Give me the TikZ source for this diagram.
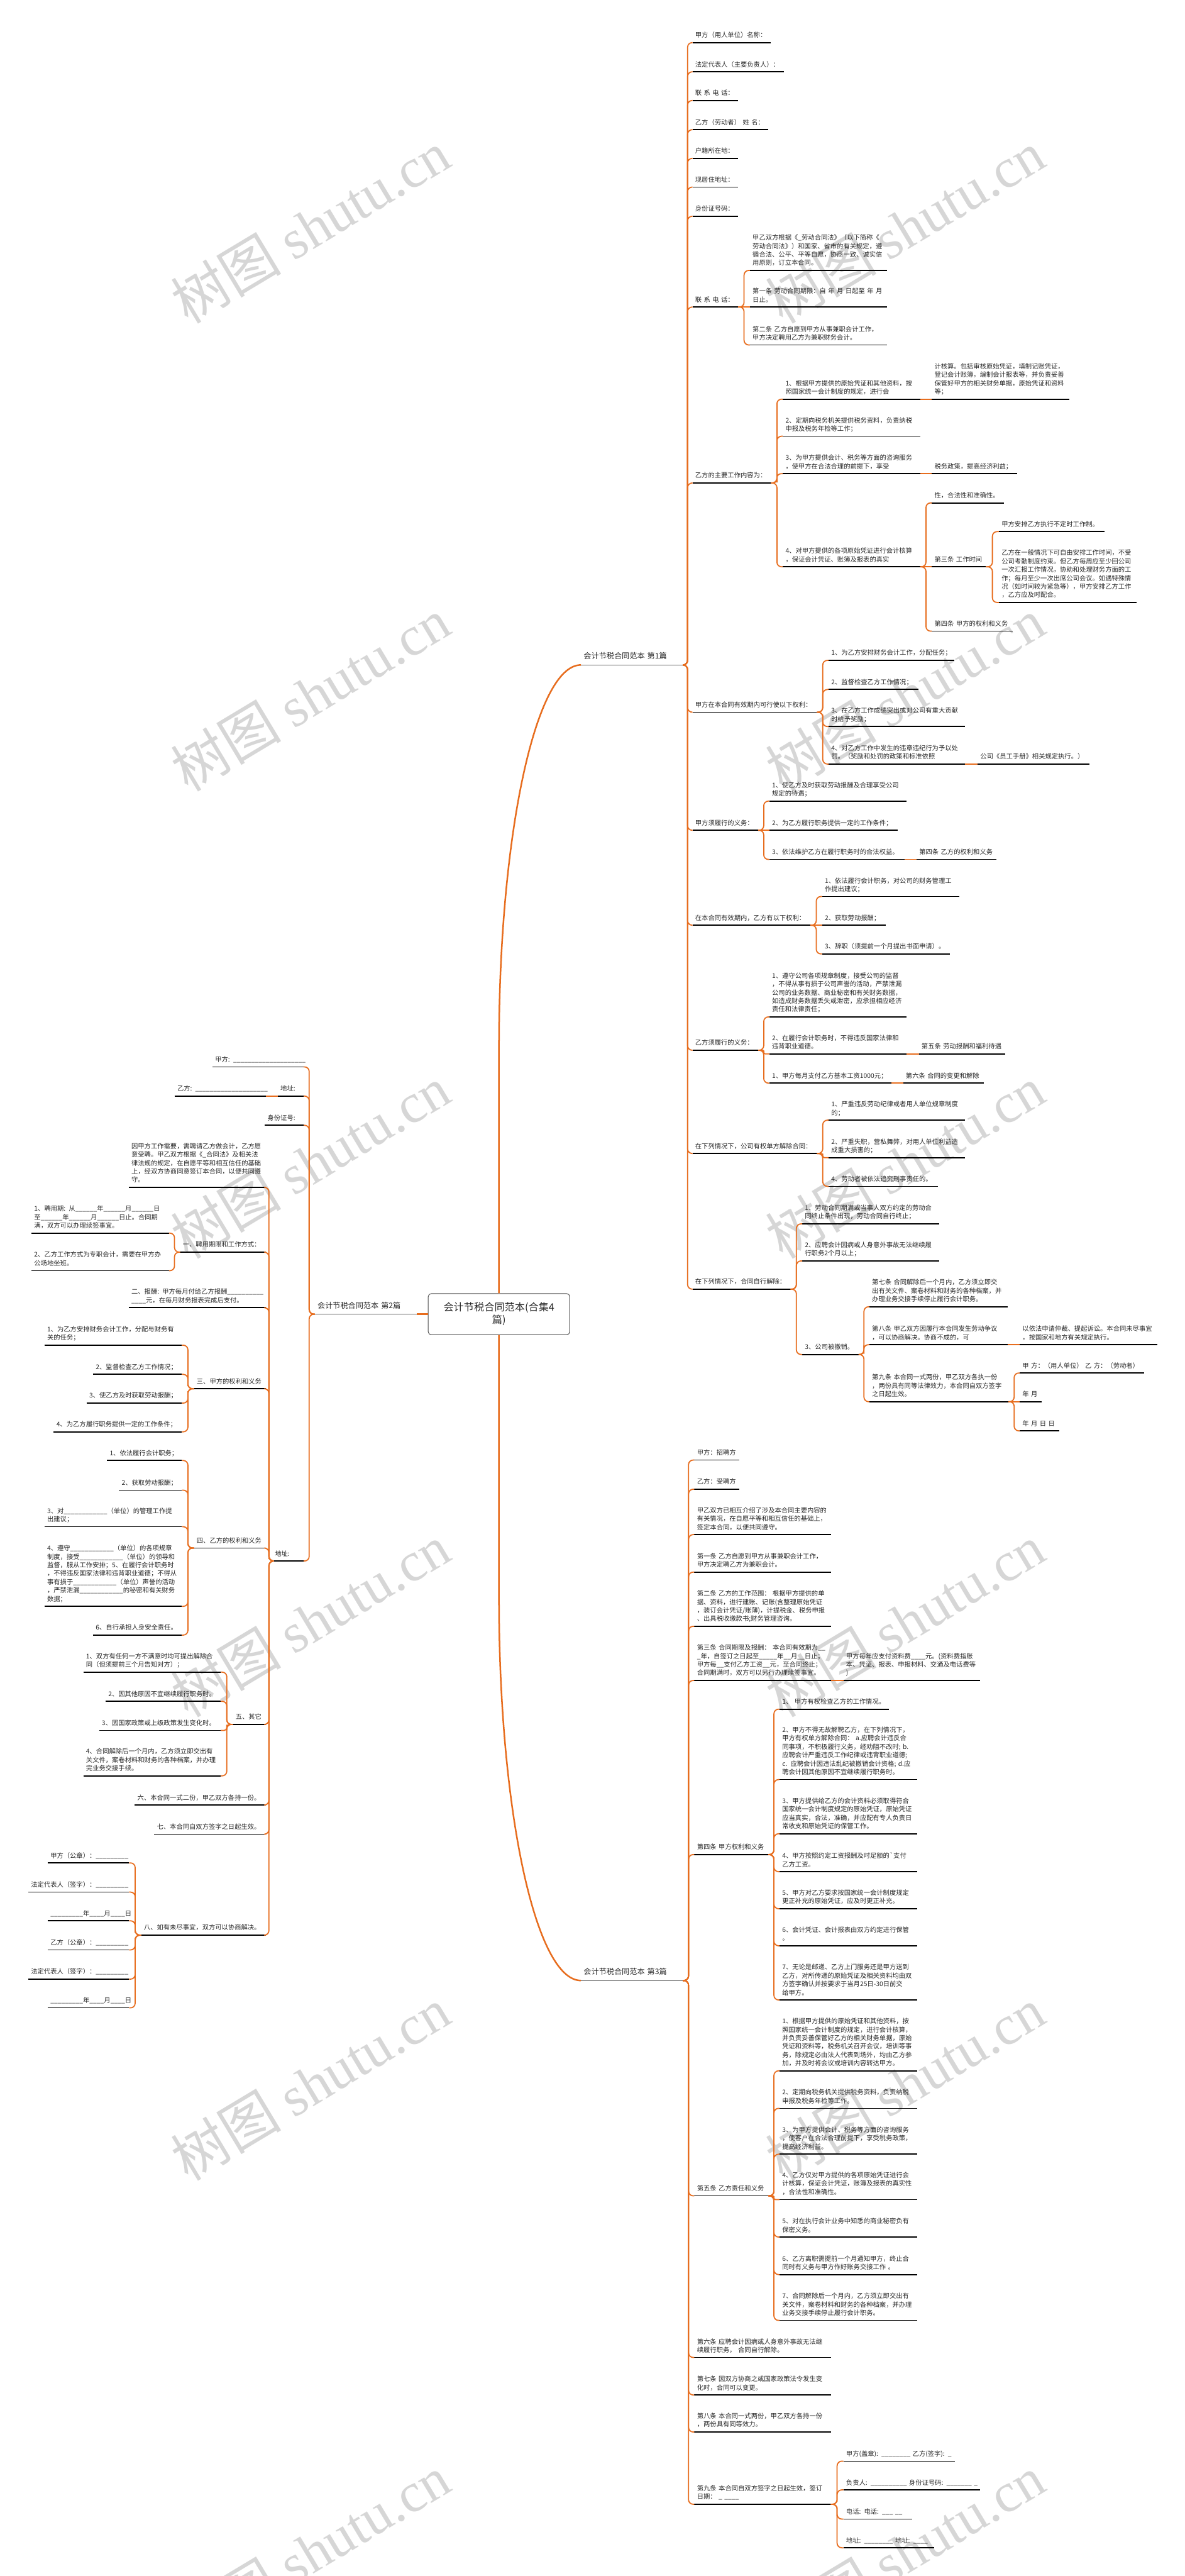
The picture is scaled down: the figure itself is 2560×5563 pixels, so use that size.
\documentclass[tikz,border=0pt]{standalone}
\usepackage{fontspec}
\setmainfont{Noto Sans CJK SC}
\newfontfamily\wmlatin{Liberation Serif}
\usetikzlibrary{calc}
\definecolor{brc}{RGB}{231,109,30}
\definecolor{txt}{RGB}{38,38,38}
\definecolor{wmc}{RGB}{214,214,214}
\newcommand\TL[1]{\begin{tabular}{@{}l@{}}#1\end{tabular}}
\newcommand\RN[5]{\pgfmathsetmacro\tw{#4-12}\node[nd,anchor=south west,text width=\tw pt] (#1) at (#2,#3) {\TL{#5}};\draw[ul] (#1.south west) -- (#1.south east);}
\newcommand\LN[5]{\pgfmathsetmacro\tw{#4-12}\node[nd,anchor=south east,text width=\tw pt] (#1) at (#2,#3) {\TL{#5}};\draw[ul] (#1.south west) -- (#1.south east);}
\newcommand\RL[5]{\pgfmathsetmacro\tw{#4-12}\node[lone,anchor=south west,text width=\tw pt] (#1) at (#2,#3) {\TL{#5}};\draw[ulone] (#1.south west) -- (#1.south east);}
\newcommand\LL[5]{\pgfmathsetmacro\tw{#4-12}\node[lone,anchor=south east,text width=\tw pt] (#1) at (#2,#3) {\TL{#5}};\draw[ulone] (#1.south west) -- (#1.south east);}
\newcommand\C[3][10]{\draw[conn,rounded corners=#1pt] (#2.south east) -| ($(#2.south east)!.5!(#3.south west)$) |- (#3.south west);}
\newcommand\CL[3][10]{\draw[conn,rounded corners=#1pt] (#2.south west) -| ($(#2.south west)!.5!(#3.south east)$) |- (#3.south east);}
\newcommand\CS[2]{\draw[conn] (#1.south east) -- (#2.south west);}
\newcommand\CSL[2]{\draw[conn] (#1.south west) -- (#2.south east);}
\begin{document}
\begin{tikzpicture}[x=1pt,y=-1pt,
  nd/.style={font=\fontsize{14}{18.2}\selectfont, text=txt, align=left, inner xsep=6pt, inner ysep=5.5pt, outer sep=0pt},
  lone/.style={font=\fontsize{16.5}{21}\selectfont, text=txt, align=left, inner xsep=6pt, inner ysep=6.4pt, outer sep=0pt},
  ul/.style={line width=2.4pt, black},
  ulone/.style={line width=1.8pt, black!65},
  conn/.style={draw=brc, line width=2.4pt},
  rc/.style={draw=brc, line width=3.4pt},
  wm/.style={rotate=31, text=wmc, font=\fontsize{120}{120}\selectfont, inner sep=0pt}]
\fill[white] (0,0) rectangle (2560,5563);
\useasboundingbox (0,0) rectangle (2560,5563);
% watermarks
\foreach \yy in {490,1500,2510,3500,4500,5510}{
  \node[wm] (wl\yy) at (670,\yy) {树图 {\wmlatin shutu.cn}};
  \node[wm] (wr\yy) at (1955,\yy) {树图 {\wmlatin shutu.cn}};
}
% root
\node[draw=black!70, line width=1.3pt, rounded corners=7pt, fill=white, minimum width=306pt, minimum height=89pt, align=center, font=\fontsize{22}{27}\selectfont, text=txt, inner sep=4pt] (root) at (1078,2838) {会计节税合同范本(合集4\\篇)};
% level 1
\RL{P1}{1255}{1436}{220}{会计节税合同范本 第1篇}
\LL{P2}{901}{2838}{221}{会计节税合同范本 第2篇}
\RL{P3}{1255}{4277}{220}{会计节税合同范本 第3篇}
\draw[rc] (root.north) -- (1078,2260) .. controls (1078,1805) and (1157,1436) .. (P1.south west);
\draw[rc] (root.south) -- (1078,3453) .. controls (1078,3908) and (1157,4277) .. (P3.south west);
\draw[rc] (P2.south east) -- (root.west);
% ---------- Part 1 ----------
\RN{a1}{1496}{92}{169}{甲方（用人单位）名称：}
\RN{a2}{1496}{155}{197}{法定代表人（主要负责人）：}
\RN{a3}{1496}{217}{99}{联 系 电 话：}
\RN{a4}{1496}{280}{164}{乙方（劳动者） 姓 名：}
\RN{a5}{1496}{342}{99}{户籍所在地：}
\RN{a6}{1496}{404}{99}{现居住地址：}
\RN{a7}{1496}{467}{99}{身份证号码：}
\RN{a8}{1496}{663}{99}{联 系 电 话：}
\RN{a8a}{1620}{584}{297}{甲乙双方根据《\_劳动合同法》（以下简称《\\劳动合同法》）和国家、省市的有关规定，遵\\循合法、公平、平等自愿，协商一致、诚实信\\用原则，订立本合同。}
\RN{a8b}{1620}{663}{297}{第一条 劳动合同期限：自 年 月 日起至 年 月\\日止。}
\RN{a8c}{1620}{745}{297}{第二条 乙方自愿到甲方从事兼职会计工作，\\甲方决定聘用乙方为兼职财务会计。}
\RN{a9}{1496}{1043}{170}{乙方的主要工作内容为：}
\RN{b1}{1691}{862}{297}{1、根据甲方提供的原始凭证和其他资料，按\\照国家统一会计制度的规定，进行会}
\RN{b1c}{2013}{862}{297}{计核算。包括审核原始凭证，填制记账凭证，\\登记会计账簿，编制会计报表等，并负责妥善\\保管好甲方的相关财务单据，原始凭证和资料\\等；}
\RN{b2}{1691}{942}{297}{2、定期向税务机关提供税务资料，负责纳税\\申报及税务年检等工作；}
\RN{b3}{1691}{1023}{297}{3、为甲方提供会计、税务等方面的咨询服务\\，使甲方在合法合理的前提下，享受}
\RN{b3c}{2013}{1023}{184}{税务政策，提高经济利益；}
\RN{b4}{1691}{1224}{297}{4、对甲方提供的各项原始凭证进行会计核算\\，保证会计凭证、账簿及报表的真实}
\RN{b4a}{2013}{1086}{156}{性，合法性和准确性。}
\RN{b4b}{2013}{1224}{117}{第三条 工作时间}
\RN{c1}{2158}{1148}{228}{甲方安排乙方执行不定时工作制。}
\RN{c2}{2158}{1301}{298}{乙方在一般情况下可自由安排工作时间，不受\\公司考勤制度约束。但乙方每周应至少回公司\\一次汇报工作情况，协助和处理财务方面的工\\作；每月至少一次出席公司会议。如遇特殊情\\况（如时间较为紧急等），甲方安排乙方工作\\，乙方应及时配合。}
\RN{b4c}{2013}{1363}{175}{第四条 甲方的权利和义务}
\RN{a10}{1496}{1538}{269}{甲方在本合同有效期内可行使以下权利：}
\RN{d1}{1790}{1426}{272}{1、为乙方安排财务会计工作，分配任务；}
\RN{d2}{1790}{1489}{194}{2、监督检查乙方工作情况；}
\RN{d3}{1790}{1569}{295}{3、在乙方工作成绩突出或对公司有重大贡献\\时给予奖励；}
\RN{d4}{1790}{1650}{295}{4、对乙方工作中发生的违章违纪行为予以处\\罚。（奖励和处罚的政策和标准依照}
\RN{d4c}{2112}{1650}{241}{公司《员工手册》相关规定执行。）}
\RN{a11}{1496}{1793}{142}{甲方须履行的义务：}
\RN{e1}{1662}{1730}{296}{1、使乙方及时获取劳动报酬及合理享受公司\\规定的待遇；}
\RN{e2}{1662}{1793}{277}{2、为乙方履行职务提供一定的工作条件；}
\RN{e3}{1662}{1856}{292}{3、依法维护乙方在履行职务时的合法权益。}
\RN{e3c}{1980}{1856}{173}{第四条 乙方的权利和义务}
\RN{a12}{1496}{1998}{255}{在本合同有效期内，乙方有以下权利：}
\RN{f1}{1776}{1936}{296}{1、依法履行会计职务，对公司的财务管理工\\作提出建议；}
\RN{f2}{1776}{1998}{137}{2、获取劳动报酬；}
\RN{f3}{1776}{2060}{276}{3、辞职（须提前一个月提出书面申请）。}
\RN{a13}{1496}{2268}{142}{乙方须履行的义务：}
\RN{g1}{1662}{2196}{296}{1、遵守公司各项规章制度，接受公司的监督\\，不得从事有损于公司声誉的活动，严禁泄漏\\公司的业务数据、商业秘密和有关财务数据，\\如造成财务数据丢失或泄密，应承担相应经济\\责任和法律责任；}
\RN{g2}{1662}{2276}{296}{2、在履行会计职务时，不得违反国家法律和\\违背职业道德。}
\RN{g2c}{1985}{2276}{187}{第五条 劳动报酬和福利待遇}
\RN{g3}{1662}{2339}{264}{1、甲方每月支付乙方基本工资1000元；}
\RN{g3c}{1951}{2339}{175}{第六条 合同的变更和解除}
\RN{a14}{1496}{2491}{269}{在下列情况下，公司有权单方解除合同：}
\RN{h1}{1790}{2419}{295}{1、严重违反劳动纪律或者用人单位规章制度\\的；}
\RN{h2}{1790}{2500}{295}{2、严重失职，营私舞弊，对用人单位利益造\\成重大损害的；}
\RN{h3}{1790}{2562}{236}{4、劳动者被依法追究刑事责任的。}
\RN{a15}{1496}{2784}{212}{在下列情况下，合同自行解除：}
\RN{i1}{1733}{2643}{296}{1、劳动合同期满或当事人双方约定的劳动合\\同终止条件出现，劳动合同自行终止；}
\RN{i2}{1733}{2723}{296}{2、应聘会计因病或人身意外事故无法继续履\\行职务2个月以上；}
\RN{i3}{1733}{2925}{122}{3、公司被撤销。}
\RN{j1}{1878}{2822}{299}{第七条 合同解除后一个月内，乙方须立即交\\出有关文件、案卷材料和财务的各种档案，并\\办理业务交接手续停止履行会计职务。}
\RN{j2}{1878}{2904}{299}{第八条 甲乙双方因履行本合同发生劳动争议\\，可以协商解决。协商不成的，可}
\RN{j2c}{2203}{2904}{297}{以依法申请仲裁、提起诉讼。本合同未尽事宜\\，按国家和地方有关规定执行。}
\RN{j3}{1878}{3027}{301}{第九条 本合同一式两份，甲乙双方各执一份\\，两份具有同等法律效力，本合同自双方签字\\之日起生效。}
\RN{k1}{2203}{2965}{269}{甲 方：（用人单位） 乙 方：（劳动者）}
\RN{k2}{2203}{3027}{47}{年 月}
\RN{k3}{2203}{3090}{85}{年 月 日 日}
\foreach \n in {a1,a2,a3,a4,a5,a6,a7,a8,a9,a10,a11,a12,a13,a14,a15}{\C{P1}{\n}}
\C{a8}{a8a}\CS{a8}{a8b}\C{a8}{a8c}
\C{a9}{b1}\C{a9}{b2}\C[9]{a9}{b3}\C{a9}{b4}
\CS{b1}{b1c}\CS{b3}{b3c}
\C{b4}{b4a}\CS{b4}{b4b}\C{b4}{b4c}
\C{b4b}{c1}\C{b4b}{c2}
\C{a10}{d1}\C{a10}{d2}\C{a10}{d3}\C{a10}{d4}\CS{d4}{d4c}
\C{a11}{e1}\CS{a11}{e2}\C{a11}{e3}\CS{e3}{e3c}
\C{a12}{f1}\CS{a12}{f2}\C{a12}{f3}
\C{a13}{g1}\C[3.5]{a13}{g2}\C{a13}{g3}\CS{g2}{g2c}\CS{g3}{g3c}
\C{a14}{h1}\C[4]{a14}{h2}\C{a14}{h3}
\C{a15}{i1}\C{a15}{i2}\C{a15}{i3}
\C{i3}{j1}\C[9]{i3}{j2}\C{i3}{j3}\CS{j2}{j2c}
\C{j3}{k1}\CS{j3}{k2}\C{j3}{k3}
% ---------- Part 3 ----------
\RN{m1}{1500}{3153}{97}{甲方：招聘方}
\RN{m2}{1500}{3216}{97}{乙方：受聘方}
\RN{m3}{1500}{3314}{295}{甲乙双方已相互介绍了涉及本合同主要内容的\\有关情况，在自愿平等和相互信任的基础上，\\签定本合同，以便共同遵守。}
\RN{m4}{1500}{3395}{295}{第一条 乙方自愿到甲方从事兼职会计工作，\\甲方决定聘乙方为兼职会计。}
\RN{m5}{1500}{3512}{295}{第二条 乙方的工作范围： 根据甲方提供的单\\据、资料，进行建账、记账(含整理原始凭证\\，装订会计凭证/账薄)，计提税金、税务申报\\、出具税收缴款书;财务管理咨询。}
\RN{m6}{1500}{3629}{295}{第三条 合同期限及报酬： 本合同有效期为\_\_\\\_年，自签订之日起至\_\_\_\_\_年\_\_月\_\_日止；\\甲方每\_\_支付乙方工资\_\_元，至合同终止；\\合同期满时，双方可以另行办理续签事宜。}
\RN{m6c}{1822}{3629}{296}{甲方每年应支付资料费\_\_\_\_元。(资料费指账\\本、凭证、报表、申报材料、交通及电话费等\\)}
\RN{m7}{1500}{4005}{160}{第四条 甲方权利和义务}
\RN{n1}{1684}{3691}{237}{1、 甲方有权检查乙方的工作情况。}
\RN{n2}{1684}{3843}{298}{2、甲方不得无故解聘乙方，在下列情况下，\\甲方有权单方解除合同： a.应聘会计违反合\\同事项，不积极履行义务，经劝阻不改时; b.\\应聘会计严重违反工作纪律或违背职业道德;\\c. 应聘会计因违法乱纪被撤销会计资格; d.应\\聘会计因其他原因不宜继续履行职务时。}
\RN{n3}{1684}{3960}{298}{3、甲方提供给乙方的会计资料必须取得符合\\国家统一会计制度规定的原始凭证，原始凭证\\应当真实，合法，准确，并应配有专人负责日\\常收支和原始凭证的保管工作。}
\RN{n4}{1684}{4042}{298}{4、甲方按照约定工资报酬及时足额的\textasciigrave 支付\\乙方工资。}
\RN{n5}{1684}{4122}{298}{5、甲方对乙方要求按国家统一会计制度规定\\更正补充的原始凭证，应及时更正补充。}
\RN{n6}{1684}{4202}{298}{6、会计凭证、会计报表由双方约定进行保管\\。}
\RN{n7}{1684}{4319}{298}{7、无论是邮递、乙方上门服务还是甲方送到\\乙方，对所传递的原始凭证及相关资料均由双\\方签字确认并按要求于当月25日-30日前交\\给甲方。}
\RN{m8}{1500}{4742}{160}{第五条 乙方责任和义务}
\RN{o1}{1684}{4472}{298}{1、根据甲方提供的原始凭证和其他资料，按\\照国家统一会计制度的规定，进行会计核算，\\并负责妥善保管好乙方的相关财务单据，原始\\凭证和资料等，税务机关召开会议，培训等事\\务，除规定必由法人代表到场外，均由乙方参\\加，并及时将会议或培训内容转达甲方。}
\RN{o2}{1684}{4553}{298}{2、定期向税务机关提供税务资料，负责纳税\\申报及税务年检等工作。}
\RN{o3}{1684}{4652}{298}{3、为甲方提供会计、税务等方面的咨询服务\\，使客户在合法合理前提下，享受税务政策，\\提高经济利益。}
\RN{o4}{1684}{4750}{298}{4、乙方仅对甲方提供的各项原始凭证进行会\\计核算，保证会计凭证，账簿及报表的真实性\\，合法性和准确性。}
\RN{o5}{1684}{4831}{298}{5、对在执行会计业务中知悉的商业秘密负有\\保密义务。}
\RN{o6}{1684}{4912}{298}{6、乙方离职需提前一个月通知甲方，终止合\\同时有义务与甲方作好账务交接工作 。}
\RN{o7}{1684}{5011}{298}{7、合同解除后一个月内，乙方须立即交出有\\关文件，案卷材料和财务的各种档案，并办理\\业务交接手续停止履行会计职务。}
\RN{m9}{1500}{5091}{295}{第六条 应聘会计因病或人身意外事故无法继\\续履行职务， 合同自行解除。}
\RN{m10}{1500}{5172}{295}{第七条 因双方协商之或国家政策法令发生变\\化时，合同可以变更。}
\RN{m11}{1500}{5252}{295}{第八条 本合同一式两份，甲乙双方各持一份\\，两份具有同等效力。}
\RN{m12}{1500}{5408}{295}{第九条 本合同自双方签字之日起生效，签订\\日期： \_ \_\_\_\_}
\RN{q1}{1822}{5315}{241}{甲方(盖章): \_\_\_\_\_\_\_\_ 乙方(签字): \_}
\RN{q2}{1822}{5377}{296}{负责人: \_\_\_\_\_\_\_\_\_\_ 身份证号码: \_\_\_\_\_\_\_ \_}
\RN{q3}{1822}{5440}{148}{电话: 电话: \_\_\_ \_\_}
\RN{q4}{1822}{5502}{196}{地址: \_\_\_\_\_\_\_\_ 地址: \_\_\_\_}
\foreach \n in {m1,m2,m3,m4,m5,m6,m7,m8,m9,m10,m11,m12}{\C{P3}{\n}}
\CS{m6}{m6c}
\foreach \n in {n1,n2,n3,n4,n5,n6,n7}{\C{m7}{\n}}
\C{m8}{o1}\C{m8}{o2}\C{m8}{o3}\C[3.5]{m8}{o4}\C{m8}{o5}\C{m8}{o6}\C{m8}{o7}
\foreach \n in {q1,q2,q3,q4}{\C{m12}{\n}}
% ---------- Part 2 ----------
\LN{s1}{656}{2304}{197}{甲方: \_\_\_\_\_\_\_\_\_\_\_\_\_\_\_\_\_\_\_\_}
\LN{s2}{656}{2367}{56}{地址:}
\LN{s2c}{574}{2367}{197}{乙方: \_\_\_\_\_\_\_\_\_\_\_\_\_\_\_\_\_\_\_\_}
\LN{s3}{656}{2430}{84}{身份证号:}
\LN{s4}{656}{3371}{68}{地址:}
\LN{t1}{574}{2564}{296}{因甲方工作需要，需聘请乙方做会计，乙方愿\\意受聘。甲乙双方根据《\_合同法》及相关法\\律法规的规定，在自愿平等和相互信任的基础\\上，经双方协商同意签订本合同，以便共同遵\\守。}
\LN{t2}{574}{2704}{185}{一、聘用期限和工作方式：}
\LN{t2a}{365}{2663}{297}{1、聘用期: 从\_\_\_\_\_\_年\_\_\_\_\_\_月\_\_\_\_\_\_日\\至\_\_\_\_\_\_年\_\_\_\_\_\_月\_\_\_\_\_\_日止。合同期\\满，双方可以办理续签事宜。}
\LN{t2b}{365}{2744}{297}{2、乙方工作方式为专职会计，需要在甲方办\\公场地坐班。}
\LN{t3}{574}{2824}{296}{二、报酬: 甲方每月付给乙方报酬\_\_\_\_\_\_\_\_\_\_\\\_\_\_\_元，在每月财务报表完成后支付。}
\LN{t4}{574}{2999}{155}{三、甲方的权利和义务}
\LN{u1}{393}{2905}{297}{1、为乙方安排财务会计工作，分配与财务有\\关的任务；}
\LN{u2}{393}{2968}{192}{2、监督检查乙方工作情况；}
\LN{u3}{393}{3030}{206}{3、使乙方及时获取劳动报酬；}
\LN{u4}{393}{3092}{277}{4、为乙方履行职务提供一定的工作条件；}
\LN{t5}{574}{3343}{155}{四、乙方的权利和义务}
\LN{v1}{393}{3154}{162}{1、依法履行会计职务；}
\LN{v2}{393}{3218}{136}{2、获取劳动报酬；}
\LN{v3}{393}{3297}{297}{3、对\_\_\_\_\_\_\_\_\_\_\_\_（单位）的管理工作提\\出建议；}
\LN{v4}{393}{3469}{297}{4、遵守\_\_\_\_\_\_\_\_\_\_\_\_（单位）的各项规章\\制度，接受\_\_\_\_\_\_\_\_\_\_\_\_（单位）的领导和\\监督，服从工作安排；5、在履行会计职务时\\，不得违反国家法律和违背职业道德；不得从\\事有损于\_\_\_\_\_\_\_\_\_\_\_\_（单位）声誉的活动\\，严禁泄漏\_\_\_\_\_\_\_\_\_\_\_\_的秘密和有关财务\\数据；}
\LN{v5}{393}{3531}{192}{6、自行承担人身安全责任。}
\LN{t6}{574}{3724}{71}{五、其它}
\LN{w1}{477}{3611}{297}{1、双方有任何一方不满意时均可提出解除合\\同（但须提前三个月告知对方）；}
\LN{w2}{477}{3674}{249}{2、因其他原因不宜继续履行职务时。}
\LN{w3}{477}{3737}{263}{3、因国家政策或上级政策发生变化时。}
\LN{w4}{477}{3835}{297}{4、合同解除后一个月内，乙方须立即交出有\\关文件，案卷材料和财务的各种档案，并办理\\完业务交接手续。}
\LN{t7}{574}{3898}{283}{六、本合同一式二份，甲乙双方各持一份。}
\LN{t8}{574}{3961}{241}{七、本合同自双方签字之日起生效。}
\LN{t9}{574}{4179}{269}{八、如有未尽事宜，双方可以协商解决。}
\LN{x1}{279}{4023}{176}{甲方（公章）：\_\_\_\_\_\_\_\_\_}
\LN{x2}{279}{4086}{218}{法定代表人（签字）：\_\_\_\_\_\_\_\_\_}
\LN{x3}{279}{4148}{176}{\_\_\_\_\_\_\_\_\_年\_\_\_\_月\_\_\_\_日}
\LN{x4}{279}{4211}{176}{乙方（公章）：\_\_\_\_\_\_\_\_\_}
\LN{x5}{279}{4274}{218}{法定代表人（签字）：\_\_\_\_\_\_\_\_\_}
\LN{x6}{279}{4336}{176}{\_\_\_\_\_\_\_\_\_年\_\_\_\_月\_\_\_\_日}
\foreach \n in {s1,s2,s3,s4}{\CL{P2}{\n}}
\CSL{s2}{s2c}
\foreach \n in {t1,t2,t3,t4,t5,t6,t7,t8,t9}{\CL{s4}{\n}}
\CL{t2}{t2a}\CL{t2}{t2b}
\foreach \n in {u1,u2,u3,u4}{\CL{t4}{\n}}
\foreach \n in {v1,v2,v3,v4,v5}{\CL{t5}{\n}}
\CL{t6}{w1}\CL{t6}{w2}\CL[6]{t6}{w3}\CL{t6}{w4}
\foreach \n in {x1,x2,x3,x4,x5,x6}{\CL{t9}{\n}}
\end{tikzpicture}
\end{document}
